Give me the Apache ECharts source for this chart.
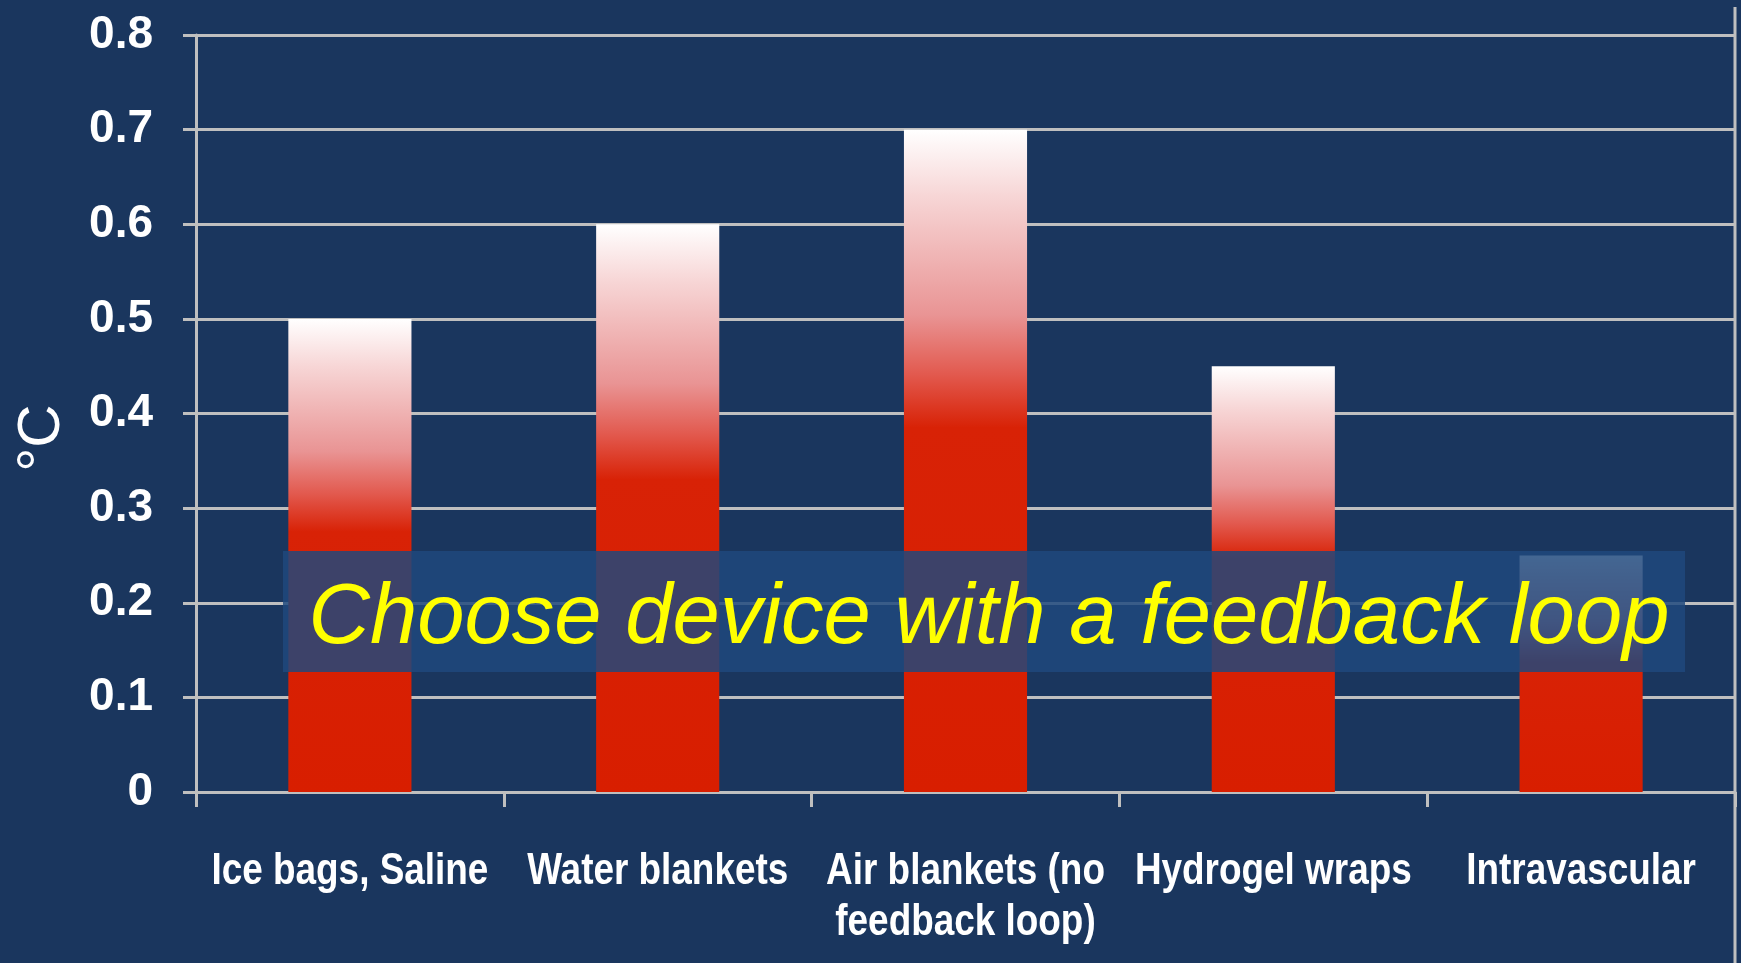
<!DOCTYPE html>
<html>
<head>
<meta charset="utf-8">
<title>Cooling devices</title>
<script src="https://cdn.jsdelivr.net/npm/echarts@6/dist/echarts.min.js"></script>
<style>
  html, body { margin: 0; padding: 0; background: #1a365e; }
  #chart { width: 1741px; height: 963px; }
</style>
</head>
<body>
<div id="chart"></div>
<script>
// Temperature overshoot per cooling method (°C)
const categories = [
  'Ice bags, Saline',
  'Water blankets',
  'Air blankets (no\nfeedback loop)',
  'Hydrogel wraps',
  'Intravascular'
];
const overshoot = [0.5, 0.6, 0.7, 0.45, 0.25];
const yTicks = ['0', '0.1', '0.2', '0.3', '0.4', '0.5', '0.6', '0.7', '0.8'];
const unitLabel = '°C';
const calloutText = 'Choose device with a feedback loop';

const chart = echarts.init(document.getElementById('chart'), null, { renderer: 'canvas' });

const gridColor = '#bfbfbf';
const barFill = new echarts.graphic.LinearGradient(0, 0, 0, 1, [
  { offset: 0.0, color: '#ffffff' },
  { offset: 0.10, color: '#f7d6d6' },
  { offset: 0.28, color: '#e99494' },
  { offset: 0.37, color: '#e2594e' },
  { offset: 0.45, color: '#d82206' },
  { offset: 1.0, color: '#d81e00' }
]);

const option = {
  backgroundColor: '#1a365e',
  animation: false,
  grid: { left: 196, right: 6, top: 35, bottom: 171, containLabel: false },
  xAxis: {
    type: 'category',
    data: categories,
    axisLine: { show: true, lineStyle: { color: gridColor, width: 3 } },
    axisTick: { show: true, length: 15, alignWithLabel: false, lineStyle: { color: gridColor, width: 3 } },
    // category names are drawn below as condensed text
    axisLabel: { show: false }
  },
  yAxis: {
    type: 'value',
    min: 0,
    max: 0.8,
    interval: 0.1,
    axisLine: { show: true, lineStyle: { color: gridColor, width: 3 } },
    axisTick: { show: true, length: 13, lineStyle: { color: gridColor, width: 3 } },
    splitLine: { show: true, lineStyle: { color: gridColor, width: 3 } },
    axisLabel: {
      color: '#ffffff',
      fontFamily: '"Liberation Sans", Arial, sans-serif',
      fontWeight: 'bold',
      fontSize: 46,
      margin: 43,
      formatter: (v) => yTicks[Math.round(v * 10)]
    }
  },
  series: [{
    type: 'bar',
    data: overshoot,
    barWidth: '40%',
    itemStyle: { color: barFill },
    z: 3
  }],
  graphic: [
    {
      type: 'line',
      shape: { x1: 1735, y1: 7, x2: 1735, y2: 963 },
      style: { stroke: gridColor, lineWidth: 3 },
      z: 10
    },
    {
      type: 'text',
      x: 42,
      y: 438,
      rotation: Math.PI / 2,
      style: {
        text: unitLabel,
        fill: '#ffffff',
        font: '60px "Liberation Sans", Arial, sans-serif',
        align: 'center',
        verticalAlign: 'middle'
      },
      z: 10
    },
    {
      type: 'rect',
      shape: { x: 283, y: 551, width: 1402, height: 121 },
      style: { fill: 'rgba(31,73,125,0.84)' },
      z: 20
    },
    {
      type: 'text',
      x: 989,
      y: 619,
      style: {
        text: calloutText,
        fill: '#ffff00',
        font: 'italic 85px "Liberation Sans", Arial, sans-serif',
        align: 'center',
        verticalAlign: 'middle'
      },
      z: 21
    }
  ]
};

chart.setOption(option);

// Condensed bold category names, centred under each category via the axis scale
const baseY = chart.convertToPixel({ yAxisIndex: 0 }, 0);
const labelGraphics = categories.map((name, i) => ({
  type: 'text',
  id: 'cat' + i,
  x: chart.convertToPixel({ xAxisIndex: 0 }, i),
  y: baseY + 54,
  scaleX: 0.82,
  style: {
    text: name,
    fill: '#ffffff',
    font: 'bold 45px "Liberation Sans", Arial, sans-serif',
    lineHeight: 51,
    align: 'center',
    verticalAlign: 'top'
  },
  z: 10
}));
chart.setOption({ graphic: option.graphic.concat(labelGraphics) });
</script>
</body>
</html>
